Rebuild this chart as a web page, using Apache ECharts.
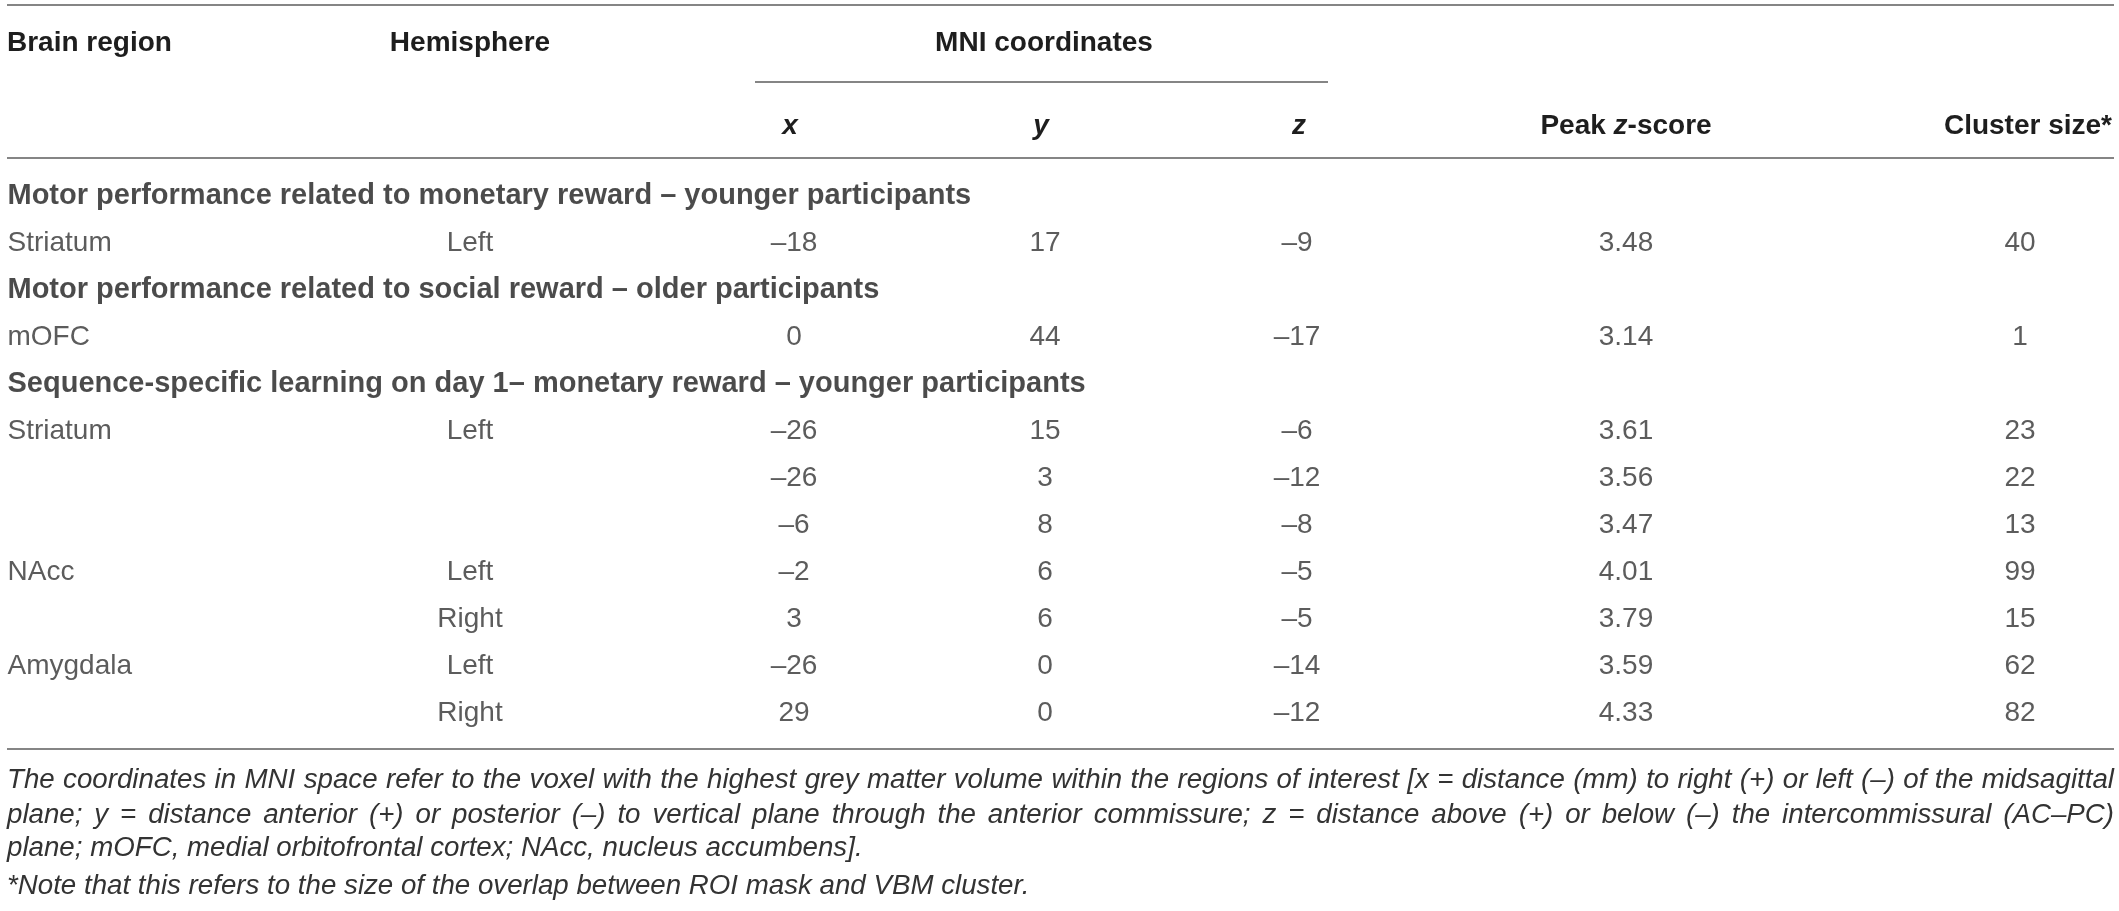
<!DOCTYPE html>
<html>
<head>
<meta charset="utf-8">
<title>MNI table</title>
<script src="https://cdn.jsdelivr.net/npm/echarts@6/dist/echarts.min.js"></script>
<style>
html, body { margin: 0; padding: 0; background: #fff; }
#main { width: 2119px; height: 911px; }
</style>
</head>
<body>
<div id="main"></div>
<script>
// table data
var sectionTitles = [
	'Motor performance related to monetary reward \u2013 younger participants',
	'Motor performance related to social reward \u2013 older participants',
	'Sequence-specific learning on day 1\u2013 monetary reward \u2013 younger participants'
];
var sectionStart = [0, 1, 2]; // data row before which each section title sits
var regions = ['Striatum', 'mOFC', 'Striatum', '', '', 'NAcc', '', 'Amygdala', ''];
var hemispheres = ['Left', '', 'Left', '', '', 'Left', 'Right', 'Left', 'Right'];
var mniX = [-18, 0, -26, -26, -6, -2, 3, -26, 29];
var mniY = [17, 44, 15, 3, 8, 6, 6, 0, 0];
var mniZ = [-9, -17, -6, -12, -8, -5, -5, -14, -12];
var peakZ = [3.48, 3.14, 3.61, 3.56, 3.47, 4.01, 3.79, 3.59, 4.33];
var clusterSize = [40, 1, 23, 22, 13, 99, 15, 62, 82];
var footnoteLines = [
	'The coordinates in MNI space refer to the voxel with the highest grey matter volume within the regions of interest [x = distance (mm) to right (+) or left (\u2013) of the midsagittal',
	'plane; y = distance anterior (+) or posterior (\u2013) to vertical plane through the anterior commissure; z = distance above (+) or below (\u2013) the intercommissural (AC\u2013PC)',
	'plane; mOFC, medial orbitofrontal cortex; NAcc, nucleus accumbens].',
	'*Note that this refers to the size of the overlap between ROI mask and VBM cluster.'
];

var FONT = '"Liberation Sans", Arial, sans-serif';
var LEFT = 7, RIGHT = 2114;
var col = { region: LEFT, hemi: 470, x: 794, y: 1045, z: 1297, peak: 1626, cluster: 2020 };

function fmt(v) {
	return v < 0 ? '\u2013' + Math.abs(v) : String(v);
}

// rows of the body: section titles interleaved with data rows
var rowKeys = [], sectionRows = [], dataRow = [];
regions.forEach(function (r, i) {
	var s = sectionStart.indexOf(i);
	if (s >= 0) {
		sectionRows.push({ row: rowKeys.length, title: sectionTitles[s] });
		rowKeys.push('s' + s);
	}
	dataRow.push(rowKeys.length);
	rowKeys.push('d' + i);
});

function column(x, texts, left) {
	return {
		type: 'scatter',
		silent: true,
		symbolSize: 1,
		itemStyle: { color: 'rgba(0,0,0,0)' },
		data: texts.map(function (t, i) {
			return { name: t, value: [x, dataRow[i]] };
		}),
		label: {
			show: true,
			formatter: '{b}',
			position: left ? 'right' : 'inside',
			distance: 0,
			fontFamily: FONT,
			fontSize: 28,
			color: '#333'
		}
	};
}

var series = [
	column(col.region, regions, true),
	column(col.hemi, hemispheres),
	column(col.x, mniX.map(fmt)),
	column(col.y, mniY.map(fmt)),
	column(col.z, mniZ.map(fmt)),
	column(col.peak, peakZ.map(function (v) { return v.toFixed(2); })),
	column(col.cluster, clusterSize.map(String)),
	{
		type: 'scatter',
		silent: true,
		symbolSize: 1,
		itemStyle: { color: 'rgba(0,0,0,0)' },
		data: sectionRows.map(function (s) {
			return { name: s.title, value: [LEFT, s.row] };
		}),
		label: {
			show: true,
			formatter: '{b}',
			position: 'right',
			distance: 0,
			fontFamily: FONT,
			fontSize: 29,
			fontWeight: 'bold',
			color: '#1e1e1e'
		}
	}
];

// graphic helpers
function hline(x1, x2, y) {
	return {
		type: 'line', silent: true,
		shape: { x1: x1, y1: y, x2: x2, y2: y },
		style: { stroke: '#858585', lineWidth: 2 }
	};
}
function txt(text, x, y, align, extra) {
	var st = {
		text: text, x: x, y: y,
		align: align, verticalAlign: 'middle',
		textAlign: align, textVerticalAlign: 'middle',
		fontFamily: FONT, fontSize: 28, fontWeight: 'bold', fill: '#1e1e1e'
	};
	for (var k in extra) st[k] = extra[k];
	return { type: 'text', silent: true, style: st };
}

var graphics = [
	hline(LEFT, RIGHT, 5),
	hline(755, 1328, 82),
	hline(LEFT, RIGHT, 158),
	hline(LEFT, RIGHT, 749),
	txt('Brain region', LEFT, 43, 'left'),
	txt('Hemisphere', col.hemi, 43, 'center'),
	txt('MNI coordinates', 1044, 43, 'center'),
	txt('x', col.x - 4, 126, 'center', { fontStyle: 'italic' }),
	txt('y', col.y - 4, 126, 'center', { fontStyle: 'italic' }),
	txt('z', col.z + 2, 126, 'center', { fontStyle: 'italic' }),
	txt('{b|Peak }{i|z}{b|-score}', col.peak, 126, 'center', {
		rich: {
			b: { fontFamily: FONT, fontSize: 28, fontWeight: 'bold', fill: '#1e1e1e' },
			i: { fontFamily: FONT, fontSize: 28, fontWeight: 'bold', fontStyle: 'italic', fill: '#1e1e1e' }
		}
	}),
	txt('Cluster size*', 2112, 126, 'right')
];

// footnotes, first two lines justified
var ctx = document.createElement('canvas').getContext('2d');
var footSize = 28;
function footFont(sz) { return 'italic ' + sz + 'px "Liberation Sans"'; }
ctx.font = footFont(footSize);
var widest = Math.max(ctx.measureText(footnoteLines[0]).width, ctx.measureText(footnoteLines[1]).width);
if (widest > RIGHT - LEFT - 20) {
	footSize = Math.floor(footSize * (RIGHT - LEFT - 20) / widest * 10) / 10;
	ctx.font = footFont(footSize);
}
var footY = [780, 815, 848, 886];
footnoteLines.forEach(function (line, li) {
	var fStyle = { fontStyle: 'italic', fontWeight: 'normal', fontSize: footSize, fill: '#333' };
	if (li < 2) {
		var words = line.split(' ');
		var widths = words.map(function (w) { return ctx.measureText(w).width; });
		var total = widths.reduce(function (a, b) { return a + b; }, 0);
		var gap = (RIGHT - LEFT - total) / (words.length - 1);
		var x = LEFT;
		words.forEach(function (w, wi) {
			graphics.push(txt(w, x, footY[li], 'left', fStyle));
			x += widths[wi] + gap;
		});
	} else {
		graphics.push(txt(line, LEFT, footY[li], 'left', fStyle));
	}
});

var myChart = echarts.init(document.getElementById('main'));
var option = {
	animation: false,
	backgroundColor: '#fff',
	grid: { left: 0, right: 0, top: 172.5, bottom: 174.5 },
	xAxis: { type: 'value', min: 0, max: 2119, show: false },
	yAxis: { type: 'category', data: rowKeys, inverse: true, show: false },
	series: series,
	graphic: graphics
};
myChart.setOption(option);
</script>
</body>
</html>
